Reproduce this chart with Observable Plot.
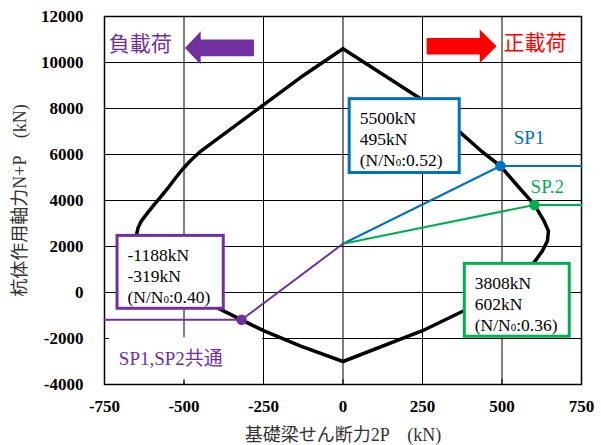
<!DOCTYPE html>
<html><head><meta charset="utf-8">
<script src="https://cdn.jsdelivr.net/npm/d3@7"></script>
<script src="https://cdn.jsdelivr.net/npm/@observablehq/plot@0.6"></script>
<style>body{margin:0;background:#fff}</style>
</head><body><div id="chart"></div>
<script>
// ---- data ----
const xTicks = [-750, -500, -250, 0, 250, 500, 750];
const yTicks = [-4000, -2000, 0, 2000, 4000, 6000, 8000, 10000, 12000];
// interaction curve: shear 2P (kN) and axial N+P (kN)
const curveP = [0, 244, 364, 433, 495, 548, 602, 632, 646, 643, 627, 601, 380, 250, 0,
  -133, -250, -319, -390, -649, -644, -635, -617, -597, -576, -554, -529, -504, -479, -447, -248, -134, 0];
const curveN = [10600, 8420, 7018, 6172, 5500, 4653, 3808, 3112, 2678, 2244, 1810, 1302, -794, -1662, -3000,
  -2330, -1660, -1188, -700, 2535, 2830, 3090, 3416, 3763, 4110, 4479, 4935, 5369, 5738, 6150, 8177, 9345, 10600];
// load paths
const originN = 2120;
const pointNames = ["SP1", "SP.2", "SP1,SP2共通"];
const pointP = [495, 602, -319];
const pointN = [5500, 3808, -1188];
const pointRatio = ["0.52", "0.36", "0.40"];
const pointColors = ["#0070C0", "#00B050", "#7030A0"];
const loadLabels = ["負載荷", "正載荷"];
const xTitle = "基礎梁せん断力2P　(kN)";
const yTitle = "杭体作用軸力N+P　(kN)";

// ---- annotation layout (data units) ----
const boxLayout = [
  {x1: 21, x2: 367, y1: 8407, y2: 5195},
  {x1: 383, x2: 713, y1: 1246, y2: -1923},
  {x1: -709, x2: -375, y1: 2461, y2: -708}
];
const nameLayout = [{x: 537, y: 6714}, {x: 590, y: 4600}, {x: -705, y: -2900}];
const loadLabelLayout = [{x: -737, y: 10796}, {x: 505, y: 10816}];
const leftArrow = [[-497,10634],[-447.5,11359],[-447.5,10998],[-280,10998],[-280,10273],[-447.5,10273],[-447.5,9913],[-497,10634]];
const rightArrow = [[263,11068],[430,11068],[430,11432],[483,10707],[430,9983],[430,10347],[263,10347],[263,11068]];
const commonLabelBg = {x1: -743, x2: -253, y1: -1960, y2: -3870};

const curve = curveP.map((p, i) => ({p, n: curveN[i]}));
const xMax = d3.max(xTicks), xMin = d3.min(xTicks);
const paths = pointP.map((p, i) => [
  {p: 0, n: originN}, {p, n: pointN[i]}, {p: p > 0 ? xMax : xMin, n: pointN[i]}
]);
const points = pointP.map((p, i) => ({p, n: pointN[i], c: pointColors[i]}));
const boxes = boxLayout.map((b, i) => ({...b, c: pointColors[i],
  text: `${pointN[i]}kN\n${pointP[i]}kN\n(N/N0:${pointRatio[i]})`}));
const names = nameLayout.map((l, i) => ({...l, t: pointNames[i], c: pointColors[i]}));
const loads = loadLabelLayout.map((l, i) => ({...l, t: loadLabels[i], c: i === 0 ? "#7030A0" : "#FF0000"}));

const serif = "'Liberation Serif', 'Times New Roman', 'Noto Sans CJK JP', serif";
const cjk = "'Noto Sans CJK JP', sans-serif";

const chart = Plot.plot({
  width: 601, height: 445,
  marginLeft: 104, marginRight: 20, marginTop: 16, marginBottom: 61,
  style: {fontFamily: serif, background: "#fff", color: "#000"},
  x: {domain: [xMin, xMax], label: null},
  y: {domain: [d3.min(yTicks), d3.max(yTicks)], label: null},
  marks: [
    Plot.gridX(xTicks, {stroke: "#000", strokeOpacity: 1, strokeWidth: 1}),
    Plot.gridY(yTicks, {stroke: "#000", strokeOpacity: 1, strokeWidth: 1}),
    Plot.rect([commonLabelBg], {x1: "x1", x2: "x2", y1: "y1", y2: "y2", fill: "#fff"}),
    Plot.axisX(xTicks, {tickSize: -5, tickPadding: 20, tickFormat: d => String(d), fontSize: 17, fontWeight: "bold", fontFamily: serif, stroke: "#000"}),
    Plot.axisY(yTicks, {tickSize: -5, tickPadding: 26, tickFormat: d => String(d), fontSize: 17, fontWeight: "bold", fontFamily: serif, stroke: "#000"}),
    Plot.frame({stroke: "#000", strokeWidth: 1.5}),
    Plot.line(curve, {x: "p", y: "n", stroke: "#000", strokeWidth: 3.5, strokeLinejoin: "round"}),
    ...paths.map((d, i) => Plot.line(d, {x: "p", y: "n", stroke: pointColors[i], strokeWidth: 2})),
    Plot.dot(points, {x: "p", y: "n", r: 4.5, fill: "c", stroke: "c"}),
    Plot.rect(boxes, {x1: "x1", x2: "x2", y1: "y1", y2: "y2", fill: "#fff", stroke: "c", strokeWidth: 3}),
    Plot.text(boxes, {x: "x1", y: "y1", text: "text", textAnchor: "start", lineAnchor: "top", dx: 10, dy: 10, lineHeight: 1.2, fontSize: 17.5, fontFamily: serif, fill: "#000"}),
    Plot.text(names, {x: "x", y: "y", text: "t", fill: "c", textAnchor: "start", fontSize: 19, fontFamily: serif}),
    Plot.line(leftArrow, {x: d => d[0], y: d => d[1], fill: "#7030A0", stroke: "none"}),
    Plot.line(rightArrow, {x: d => d[0], y: d => d[1], fill: "#FF0000", stroke: "none"}),
    Plot.text(loads, {x: "x", y: "y", text: "t", fill: "c", textAnchor: "start", fontSize: 21, fontFamily: cjk}),
    Plot.text([xTitle], {frameAnchor: "bottom", textAnchor: "middle", lineAnchor: "bottom", dy: 56, fontSize: 18, fill: "#333", fontFamily: serif}),
    Plot.text([yTitle], {frameAnchor: "left", textAnchor: "middle", lineAnchor: "middle", dx: -84, rotate: -90, fontSize: 18, fill: "#333", fontFamily: serif})
  ]
});
document.getElementById("chart").appendChild(chart);

// enforce fonts on every text
d3.select(chart).selectAll("text").attr("font-family", function() {
  return loadLabels.includes(this.textContent) ? cjk : serif;
});

// small "0" in N/N0
d3.select(chart).selectAll("tspan").each(function() {
  const t = this.textContent;
  const k = t.indexOf("N/N0");
  if (k >= 0) {
    const before = t.slice(0, k + 3), after = t.slice(k + 4);
    const el = d3.select(this);
    el.text(before);
    el.append("tspan").attr("font-size", 11).text("0");
    el.append("tspan").text(after);
  }
});
</script>
</body></html>
